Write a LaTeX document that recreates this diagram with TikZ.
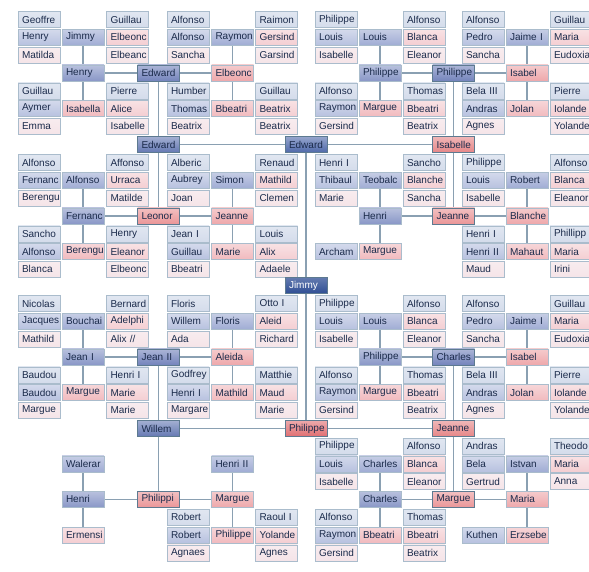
\documentclass[tikz,border=0pt]{standalone}
\usepackage{fontspec}
\setmainfont{Liberation Sans}
\usetikzlibrary{backgrounds}
\definecolor{Ink}{RGB}{27,43,75}
\definecolor{Edge}{RGB}{170,188,204}
\definecolor{EdgeDk}{RGB}{93,122,144}
\definecolor{Line}{RGB}{138,160,178}
\definecolor{M0}{RGB}{47,78,148}
\definecolor{M1}{RGB}{79,105,170}
\definecolor{M2}{RGB}{101,121,179}
\definecolor{M3}{RGB}{116,132,188}
\definecolor{M4}{RGB}{137,151,199}
\definecolor{M5}{RGB}{160,172,212}
\definecolor{M6}{RGB}{183,193,223}
\definecolor{M7}{RGB}{212,220,235}
\definecolor{F1}{RGB}{224,111,114}
\definecolor{F2}{RGB}{230,134,136}
\definecolor{F3}{RGB}{234,150,152}
\definecolor{F4}{RGB}{238,168,171}
\definecolor{F5}{RGB}{241,186,190}
\definecolor{F6}{RGB}{244,206,210}
\definecolor{F7}{RGB}{245,228,232}
\tikzset{
  % one name cell
  cell/.style={
    minimum width=42pt, text width=34pt, minimum height=16pt,
    inner xsep=4pt, inner ysep=0pt, align=left,
    font=\fontsize{10}{10}\selectfont, text=Ink,
    draw=Edge, line width=0.4pt
  },
  % men, by generation
  m0/.style={cell, draw=EdgeDk, top color=M0!75!white, bottom color=M0, text=white},
  m1/.style={cell, draw=EdgeDk, top color=M1!60!white, bottom color=M1},
  m2/.style={cell, draw=EdgeDk, top color=M2!60!white, bottom color=M2},
  m3/.style={cell, draw=EdgeDk, top color=M3!60!white, bottom color=M3},
  m4/.style={cell, top color=M4!60!white, bottom color=M4},
  m5/.style={cell, top color=M5!60!white, bottom color=M5},
  m6/.style={cell, top color=M6!60!white, bottom color=M6},
  m7/.style={cell, top color=M7!70!white, bottom color=M7},
  % women, by generation
  f1/.style={cell, draw=EdgeDk, top color=F1!60!white, bottom color=F1},
  f2/.style={cell, draw=EdgeDk, top color=F2!60!white, bottom color=F2},
  f3/.style={cell, draw=EdgeDk, top color=F3!60!white, bottom color=F3},
  f4/.style={cell, top color=F4!60!white, bottom color=F4},
  f5/.style={cell, top color=F5!60!white, bottom color=F5},
  f6/.style={cell, top color=F6!60!white, bottom color=F6},
  f7/.style={cell, top color=F7!70!white, bottom color=F7},
  % connector
  link/.style={draw=Line, line width=1.4pt},
}
% parent, person and mother stacked in one column
\newcommand{\famtrio}[7]{%
  \node[m7] (#1t) at (#2,#3-17.8) {#5};
  \node[#4] (#1m) at (#2,#3) {#6};
  \node[f7] (#1b) at (#2,#3+17.8) {#7};%
}

\begin{document}
\begin{tikzpicture}[x=1pt, y=-1pt]
\useasboundingbox (0,0) rectangle (589,571);

% ── Block 1 (top) ────────────────────────────────────────────────────────────
\famtrio{aa}{39}{37.3}{m6}{Geoffre}{Henry}{Matilda}
\famtrio{ab}{127.5}{37.3}{f6}{Guillau}{Elbeonc}{Elbeanc}
\famtrio{ac}{39}{108.5}{m6}{Guillau}{Aymer}{Emma}
\famtrio{ad}{127.5}{108.5}{f6}{Pierre}{Alice}{Isabelle}
\node[m5] (jimmyA) at (83,37.3) {Jimmy};
\node[m4] (henryA) at (83,72.9) {Henry};
\node[f5] (isabellaA) at (83,108.5) {Isabella};
\node[m3] (edwardA) at (158.5,72.9) {Edward};

\famtrio{ae}{188}{37.3}{m6}{Alfonso}{Alfonso}{Sancha}
\famtrio{af}{276.5}{37.3}{f6}{Raimon}{Gersind}{Garsind}
\famtrio{ag}{188}{108.5}{m6}{Humber}{Thomas}{Beatrix}
\famtrio{ah}{276.5}{108.5}{f6}{Guillau}{Beatrix}{Beatrix}
\node[m5] (raymonA) at (232.5,37.3) {Raymon};
\node[f4] (elbeoncA) at (232.5,72.9) {Elbeonc};
\node[f5] (bbeatriA) at (232.5,108.5) {Bbeatri};

\famtrio{ai}{336}{37.3}{m6}{Philippe}{Louis}{Isabelle}
\famtrio{aj}{424}{37.3}{f6}{Alfonso}{Blanca}{Eleanor}
\famtrio{ak}{336}{108.5}{m6}{Alfonso}{Raymon}{Gersind}
\famtrio{al}{424}{108.5}{f6}{Thomas}{Bbeatri}{Beatrix}
\node[m5] (louisA) at (380,37.3) {Louis};
\node[m4] (philippeA) at (380,72.9) {Philippe};
\node[f5] (margueA) at (380,108.5) {Margue};
\node[m3] (philippeB) at (453.5,72.9) {Philippe};

\famtrio{am}{483}{37.3}{m6}{Alfonso}{Pedro}{Sancha}
\famtrio{an}{571}{37.3}{f6}{Guillau}{Maria}{Eudoxia}
\famtrio{ao}{483}{108.5}{m6}{Bela III}{Andras}{Agnes}
\famtrio{ap}{571}{108.5}{f6}{Pierre}{Iolande}{Yolande}
\node[m5] (jaimeA) at (527,37.3) {Jaime I};
\node[f4] (isabelA) at (527,72.9) {Isabel};
\node[f5] (jolanA) at (527,108.5) {Jolan};

% ── Upper level ──────────────────────────────────────────────────────────────
\node[m2] (edwardL) at (158.5,144.5) {Edward};
\node[m1] (edwardC) at (306,144.5) {Edward};
\node[f2] (isabelleR) at (453.5,144.5) {Isabelle};

% ── Block 2 ──────────────────────────────────────────────────────────────────
\famtrio{ba}{39}{180.3}{m6}{Alfonso}{Fernanc}{Berengu}
\famtrio{bb}{127.5}{180.3}{f6}{Affonso}{Urraca}{Matilde}
\famtrio{bc}{39}{251.5}{m6}{Sancho}{Alfonso}{Blanca}
\famtrio{bd}{127.5}{251.5}{f6}{Henry}{Eleanor}{Elbeonc}
\node[m5] (alfonsoB) at (83,180.3) {Alfonso};
\node[m4] (fernancB) at (83,215.9) {Fernanc};
\node[f5] (berenguB) at (83,251.5) {Berengu};
\node[f3] (leonorB) at (158.5,215.9) {Leonor};

\famtrio{be}{188}{180.3}{m6}{Alberic}{Aubrey}{Joan}
\famtrio{bf}{276.5}{180.3}{f6}{Renaud}{Mathild}{Clemen}
\famtrio{bg}{188}{251.5}{m6}{Jean I}{Guillau}{Bbeatri}
\famtrio{bh}{276.5}{251.5}{f6}{Louis}{Alix}{Adaele}
\node[m5] (simonB) at (232.5,180.3) {Simon};
\node[f4] (jeanneB) at (232.5,215.9) {Jeanne};
\node[f5] (marieB) at (232.5,251.5) {Marie};

\famtrio{bi}{336}{180.3}{m6}{Henri I}{Thibaul}{Marie}
\famtrio{bj}{424}{180.3}{f6}{Sancho}{Blanche}{Sancha}
\node[m6] (archamB) at (336,251.5) {Archam};
\node[m5] (teobalcB) at (380,180.3) {Teobalc};
\node[m4] (henriB) at (380,215.9) {Henri};
\node[f5] (margueB) at (380,251.5) {Margue};
\node[f3] (jeanneR) at (453.5,215.9) {Jeanne};

\famtrio{bk}{483}{180.3}{m6}{Philippe}{Louis}{Isabelle}
\famtrio{bl}{571}{180.3}{f6}{Alfonso}{Blanca}{Eleanor}
\famtrio{bm}{483}{251.5}{m6}{Henri I}{Henri II}{Maud}
\famtrio{bn}{571}{251.5}{f6}{Phillipp}{Maria}{Irini}
\node[m5] (robertB) at (527,180.3) {Robert};
\node[f4] (blancheB) at (527,215.9) {Blanche};
\node[f5] (mahautB) at (527,251.5) {Mahaut};

% ── Root ─────────────────────────────────────────────────────────────────────
\node[m0] (jimmy) at (306,285.5) {Jimmy};

% ── Block 3 ──────────────────────────────────────────────────────────────────
\famtrio{ca}{39}{321.3}{m6}{Nicolas}{Jacques}{Mathild}
\famtrio{cb}{127.5}{321.3}{f6}{Bernard}{Adelphi}{Alix //}
\famtrio{cc}{39}{392.5}{m6}{Baudou}{Baudou}{Margue}
\famtrio{cd}{127.5}{392.5}{f6}{Henri I}{Marie}{Marie}
\node[m5] (bouchaiC) at (83,321.3) {Bouchai};
\node[m4] (jeanC) at (83,356.9) {Jean I};
\node[f5] (margueC) at (83,392.5) {Margue};
\node[m3] (jeanIIC) at (158.5,356.9) {Jean II};

\famtrio{ce}{188}{321.3}{m6}{Floris}{Willem}{Ada}
\famtrio{cf}{276.5}{321.3}{f6}{Otto I}{Aleid}{Richard}
\famtrio{cg}{188}{392.5}{m6}{Godfrey}{Henri I}{Margare}
\famtrio{ch}{276.5}{392.5}{f6}{Matthie}{Maud}{Marie}
\node[m5] (florisC) at (232.5,321.3) {Floris};
\node[f4] (aleidaC) at (232.5,356.9) {Aleida};
\node[f5] (mathildC) at (232.5,392.5) {Mathild};

\famtrio{ci}{336}{321.3}{m6}{Philippe}{Louis}{Isabelle}
\famtrio{cj}{424}{321.3}{f6}{Alfonso}{Blanca}{Eleanor}
\famtrio{ck}{336}{392.5}{m6}{Alfonso}{Raymon}{Gersind}
\famtrio{cl}{424}{392.5}{f6}{Thomas}{Bbeatri}{Beatrix}
\node[m5] (louisC) at (380,321.3) {Louis};
\node[m4] (philippeC) at (380,356.9) {Philippe};
\node[f5] (margueC2) at (380,392.5) {Margue};
\node[m3] (charlesC) at (453.5,356.9) {Charles};

\famtrio{cm}{483}{321.3}{m6}{Alfonso}{Pedro}{Sancha}
\famtrio{cn}{571}{321.3}{f6}{Guillau}{Maria}{Eudoxia}
\famtrio{co}{483}{392.5}{m6}{Bela III}{Andras}{Agnes}
\famtrio{cp}{571}{392.5}{f6}{Pierre}{Iolande}{Yolande}
\node[m5] (jaimeC) at (527,321.3) {Jaime I};
\node[f4] (isabelC) at (527,356.9) {Isabel};
\node[f5] (jolanC) at (527,392.5) {Jolan};

% ── Lower level ──────────────────────────────────────────────────────────────
\node[m2] (willemL) at (158.5,428.5) {Willem};
\node[f1] (philippeM) at (306,428.5) {Philippe};
\node[f2] (jeanneM) at (453.5,428.5) {Jeanne};

% ── Block 4 (bottom) ─────────────────────────────────────────────────────────
\node[m5] (waleranD) at (83,463.8) {Walerar};
\node[m4] (henriD) at (83,499.4) {Henri};
\node[f6] (ermensiD) at (83,535) {Ermensi};
\node[f3] (philippiD) at (158.5,499.4) {Philippi};

\famtrio{dg}{188}{535}{m6}{Robert}{Robert}{Agnaes}
\famtrio{dh}{276.5}{535}{f6}{Raoul I}{Yolande}{Agnes}
\node[m5] (henriIID) at (232.5,463.8) {Henri II};
\node[f4] (margueD) at (232.5,499.4) {Margue};
\node[f5] (philippeD) at (232.5,535) {Philippe};

\famtrio{di}{336}{463.8}{m6}{Philippe}{Louis}{Isabelle}
\famtrio{dj}{424}{463.8}{f6}{Alfonso}{Blanca}{Eleanor}
\famtrio{dk}{336}{535}{m6}{Alfonso}{Raymon}{Gersind}
\famtrio{dl}{424}{535}{f6}{Thomas}{Bbeatri}{Beatrix}
\node[m5] (charlesD) at (380,463.8) {Charles};
\node[m4] (charlesD2) at (380,499.4) {Charles};
\node[f5] (bbeatriD) at (380,535) {Bbeatri};
\node[f3] (margueR) at (453.5,499.4) {Margue};

\famtrio{dm}{483}{463.8}{m6}{Andras}{Bela}{Gertrud}
\famtrio{dn}{571}{463.8}{f6}{Theodo}{Maria}{Anna}
\node[m6] (kuthenD) at (483,535) {Kuthen};
\node[m5] (istvanD) at (527,463.8) {Istvan};
\node[f4] (mariaD) at (527,499.4) {Maria};
\node[f5] (erzsebeD) at (527,535) {Erzsebe};

% ── Connectors ───────────────────────────────────────────────────────────────
\begin{pgfonlayer}{background}
  % parents of each couple
  \draw[link] (jimmyA) -- (henryA) -- (isabellaA);
  \draw[link] (raymonA) -- (elbeoncA) -- (bbeatriA);
  \draw[link] (louisA) -- (philippeA) -- (margueA);
  \draw[link] (jaimeA) -- (isabelA) -- (jolanA);
  \draw[link] (alfonsoB) -- (fernancB) -- (berenguB);
  \draw[link] (simonB) -- (jeanneB) -- (marieB);
  \draw[link] (teobalcB) -- (henriB) -- (margueB);
  \draw[link] (robertB) -- (blancheB) -- (mahautB);
  \draw[link] (bouchaiC) -- (jeanC) -- (margueC);
  \draw[link] (florisC) -- (aleidaC) -- (mathildC);
  \draw[link] (louisC) -- (philippeC) -- (margueC2);
  \draw[link] (jaimeC) -- (isabelC) -- (jolanC);
  \draw[link] (waleranD) -- (henriD) -- (ermensiD);
  \draw[link] (henriIID) -- (margueD) -- (philippeD);
  \draw[link] (charlesD) -- (charlesD2) -- (bbeatriD);
  \draw[link] (istvanD) -- (mariaD) -- (erzsebeD);
  % couples
  \draw[link] (henryA) -- (edwardA) -- (elbeoncA);
  \draw[link] (philippeA) -- (philippeB) -- (isabelA);
  \draw[link] (fernancB) -- (leonorB) -- (jeanneB);
  \draw[link] (henriB) -- (jeanneR) -- (blancheB);
  \draw[link] (jeanC) -- (jeanIIC) -- (aleidaC);
  \draw[link] (philippeC) -- (charlesC) -- (isabelC);
  \draw[link] (henriD) -- (philippiD) -- (margueD);
  \draw[link] (charlesD2) -- (margueR) -- (mariaD);
  % upper generations
  \draw[link] (edwardA) -- (edwardL) -- (leonorB);
  \draw[link] (philippeB) -- (isabelleR) -- (jeanneR);
  \draw[link] (jeanIIC) -- (willemL) -- (philippiD);
  \draw[link] (charlesC) -- (jeanneM) -- (margueR);
  \draw[link] (edwardL) -- (edwardC) -- (isabelleR);
  \draw[link] (willemL) -- (philippeM) -- (jeanneM);
  \draw[link] (edwardC) -- (jimmy) -- (philippeM);
\end{pgfonlayer}

\end{tikzpicture}
\end{document}
